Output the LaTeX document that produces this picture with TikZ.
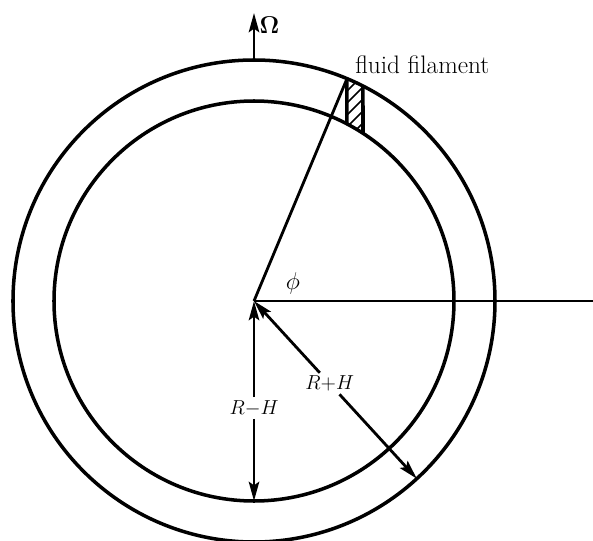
\documentclass[tikz,border=0pt]{standalone}
\usepackage{amsmath}
\usepackage{bm}
\usetikzlibrary{arrows.meta, calc}

\begin{document}
\begin{tikzpicture}[x=0.25mm, y=0.25mm,
    ring/.style={line width=2.5pt},
    dimline/.style={line width=2pt, -{Stealth[length=4.8mm, width=2.6mm, inset=0.9mm]}},
    lbl/.style={font=\fontsize{15}{18}\selectfont, inner sep=2pt}]
    % 1 unit = 1 pixel of the original; origin at the common centre of the two circles.
    \def\Ro{241}   % outer radius R+H
    \def\Ri{200}   % inner radius R-H
    \def\fl{93}    % left side of the filament
    \def\fr{109}   % right side of the filament
    \def\ra{-47.5} % direction of the R+H arrow

    \useasboundingbox (-254,-240) rectangle (339,301);

    \coordinate (O) at (0,0);
    \coordinate (Top) at (90:\Ro);
    \coordinate (OmTip) at (0,288);
    \coordinate (Bot) at (-90:\Ri);
    \coordinate (Rim) at (\ra:\Ro);
    \coordinate (East) at (339,0);

    % Outer and inner surfaces
    \draw[ring] (O) circle (\Ro);
    \draw[ring] (O) circle (\Ri);

    % Filament corners
    \coordinate (FTL) at ({acos(\fl/\Ro)}:\Ro);
    \coordinate (FBL) at ({acos(\fl/\Ri)}:\Ri);
    \coordinate (FTR) at ({acos(\fr/\Ro)}:\Ro);
    \coordinate (FBR) at ({acos(\fr/\Ri)}:\Ri);

    % Hatching of the filament
    \begin{scope}[even odd rule]
        \clip (\fl,0) rectangle (\fr,\Ro);
        \clip (O) circle (\Ro) (O) circle (\Ri);
        \foreach \k in {150,162,...,222}
            \draw[line width=1.2pt] (\fl,\k) -- (\fr,\k+16);
    \end{scope}
    \draw[ring] (FBL) -- (FTL);
    \draw[ring] (FBR) -- (FTR);

    % Radius to the filament and the reference line for phi
    \draw[line width=2pt] (O) -- (FTL);
    \draw[line width=2pt] (O) -- (East);
    \node[font=\fontsize{19}{22}\selectfont] (phi) at (39,18) {$\phi$};

    % Rotation
    \draw[dimline] (Top) -- (OmTip);
    \node[font=\fontsize{19}{22}\selectfont, anchor=west, inner sep=1pt] (omega) at (4,276) {$\bm{\Omega}$};

    % Filament label
    \node[font=\fontsize{18}{21}\selectfont, anchor=base west, inner sep=0pt]
        (filament) at (101,228) {fluid filament};

    % Radii
    \node[lbl] (rmh) at (0,-107) {$R{-}H$};
    \draw[dimline] (rmh) -- (O);
    \draw[dimline] (rmh) -- (Bot);

    \node[lbl] (rph) at (\ra:112) {$R{+}H$};
    \draw[dimline] (rph) -- (O);
    \draw[dimline] (rph) -- (Rim);
\end{tikzpicture}
\end{document}
